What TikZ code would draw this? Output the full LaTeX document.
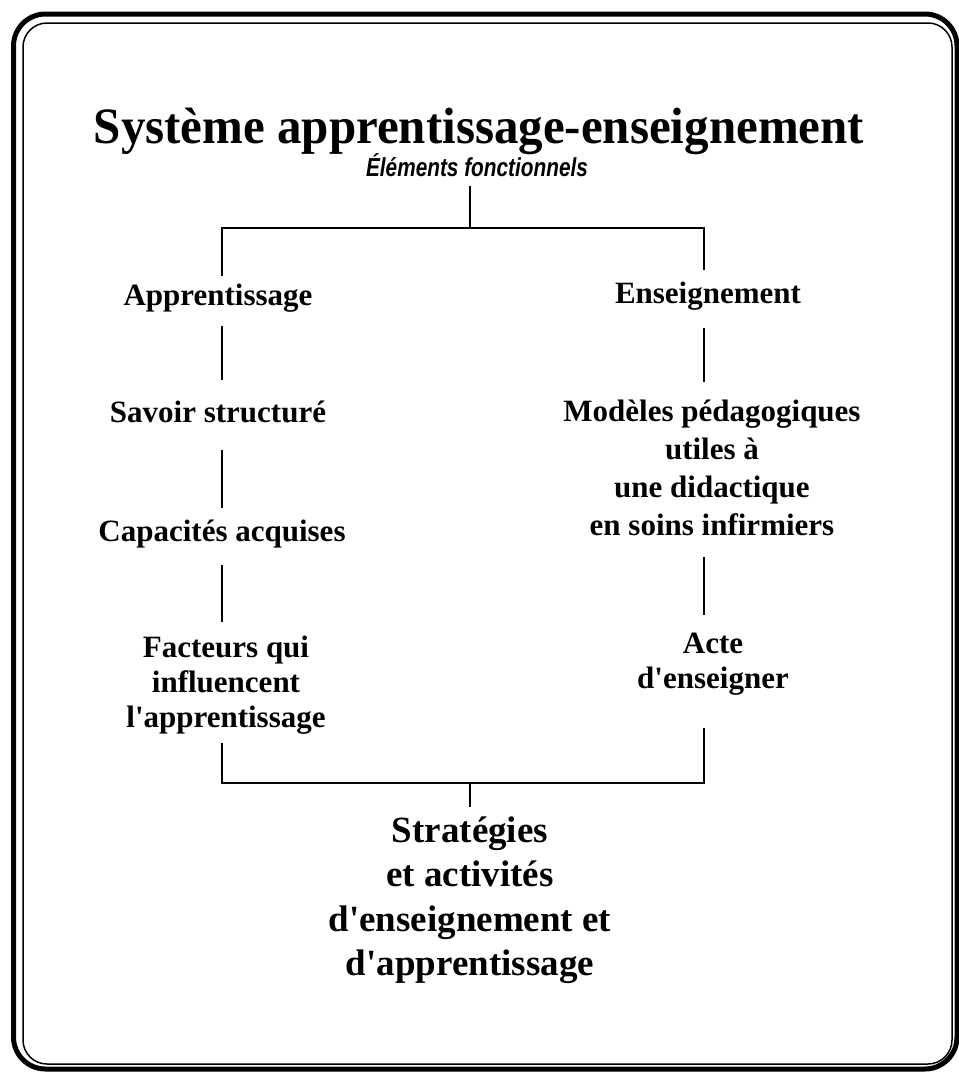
\documentclass[tikz,border=0pt]{standalone}
\usepackage{fontspec}
\setmainfont{Liberation Serif}[Ligatures=TeXOff]
\newfontfamily\subfont{Liberation Sans}
\begin{document}
\begin{tikzpicture}[x=1pt,y=-1pt,
  label/.style={anchor=base,align=center,inner sep=0pt,outer sep=0pt,
    font=\fontsize{31}{37}\selectfont\bfseries},
  link/.style={line width=1.3pt,line cap=butt},
  frameouter/.style={line width=5pt,rounded corners=32pt},
  frameinner/.style={line width=1.5pt,rounded corners=24pt}]
\useasboundingbox (0,0) rectangle (959,1072);

% double frame
\draw[frameouter] (13.5,14) rectangle (957,1069);
\draw[frameinner] (23,23) rectangle (952,1064);

% column guides and junctions
\coordinate (colL) at (222,0);
\coordinate (colR) at (704,0);
\coordinate (jtop) at (470,228);
\coordinate (jbot) at (470,783);

% headings
\node[anchor=base,inner sep=0pt,font=\fontsize{51}{57}\selectfont\bfseries]
  (title) at (479,143) {\scalebox{0.96}[1]{Système apprentissage-enseignement}};
\node[anchor=base,inner sep=0pt,font=\subfont\fontsize{26}{30}\selectfont\bfseries\itshape]
  (sub) at (477,176) {\scalebox{0.8}[1]{Éléments fonctionnels}};

% left column (multi-line nodes are placed by their last baseline)
\node[label] (app) at (218,305) {Apprentissage};
\node[label] (savoir) at (218,422) {Savoir structuré};
\node[label] (capac) at (222,541) {Capacités acquises};
\node[label,font=\fontsize{31}{35}\selectfont\bfseries] (fact) at (226,727)
  {Facteurs qui\\influencent\\l'apprentissage};

% right column
\node[label] (ens) at (708,303) {Enseignement};
\node[label,font=\fontsize{31}{38}\selectfont\bfseries] (mod) at (712,535)
  {Modèles pédagogiques\\utiles à\\une didactique\\en soins infirmiers};
\node[label,font=\fontsize{31}{35}\selectfont\bfseries] (acte) at (713,688)
  {Acte\\d'enseigner};

% result
\node[label,font=\fontsize{37}{44.5}\selectfont\bfseries] (strat) at (470,975.5)
  {Stratégies\\et activités\\d'enseignement et\\d'apprentissage};

% top bracket
\draw[link,shorten <=10pt] (sub.south -| jtop) -- (jtop);
\draw[link,shorten <=7pt,shorten >=11pt]
  (app.north -| colL) -- (colL |- jtop) -- (colR |- jtop) -- (ens.north -| colR);

% left chain
\draw[link,shorten <=14pt,shorten >=20pt] (app.south -| colL) -- (savoir.north -| colL);
\draw[link,shorten <=28pt,shorten >=11pt] (savoir.south -| colL) -- (capac.north -| colL);
\draw[link,shorten <=17pt,shorten >=14pt] (capac.south -| colL) -- (fact.north -| colL);

% right chain
\draw[link,shorten <=18pt,shorten >=17.5pt] (ens.south -| colR) -- (mod.north -| colR);
\draw[link,shorten <=22pt,shorten >=17.5pt] (mod.south -| colR) -- (acte.north -| colR);

% bottom bracket
\draw[link,shorten <=9pt,shorten >=33pt]
  (fact.south -| colL) -- (colL |- jbot) -- (colR |- jbot) -- (acte.south -| colR);
\draw[link,shorten >=9pt] (jbot) -- (strat.north -| jbot);
\end{tikzpicture}
\end{document}
